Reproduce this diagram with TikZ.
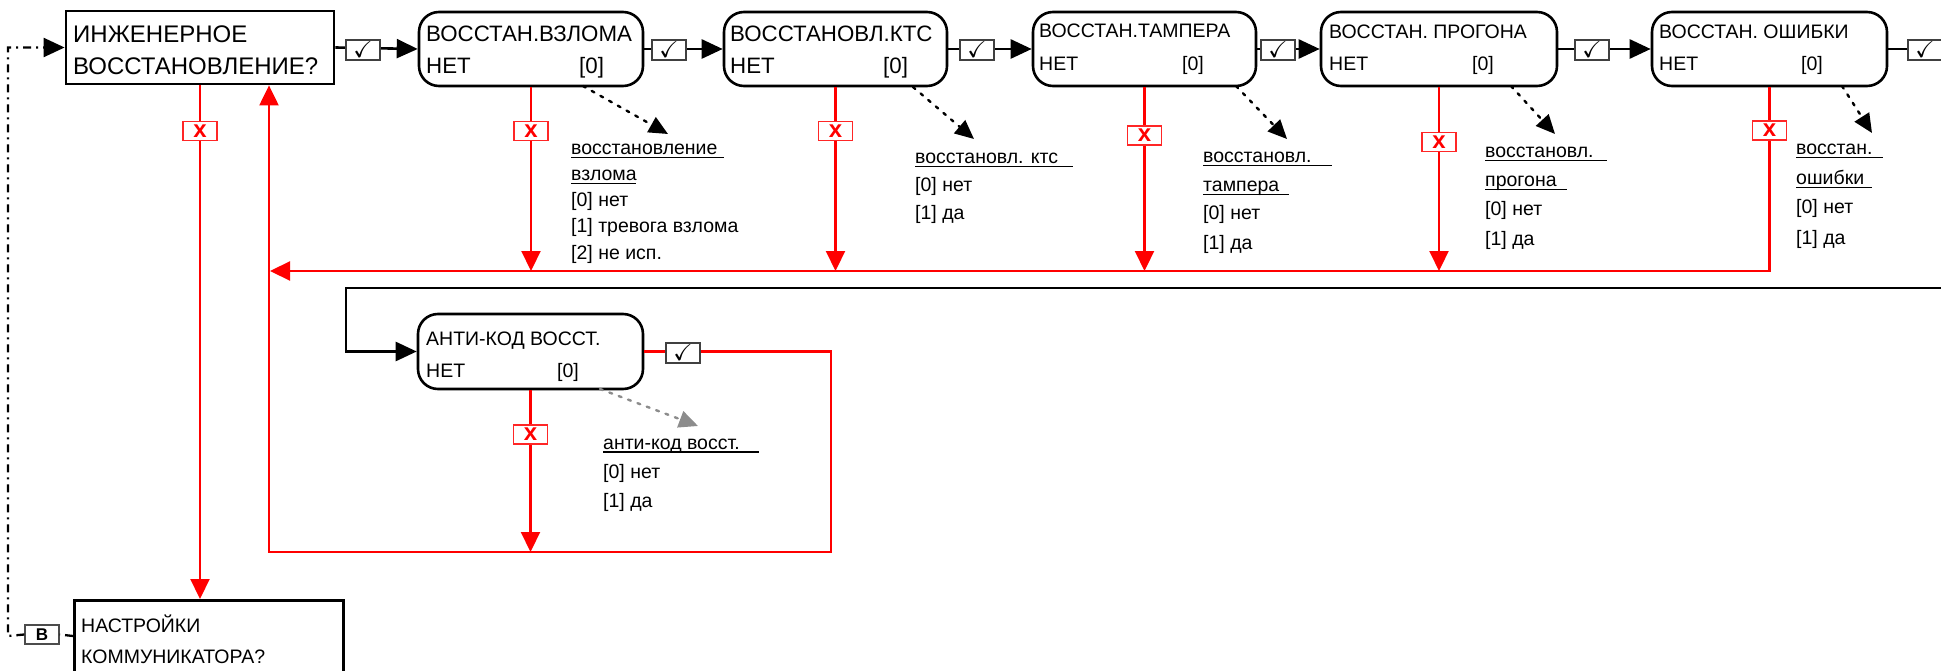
\documentclass[tikz,border=0pt]{standalone}
\usepackage{amssymb}
\usepackage{fontspec}
\setmainfont{Liberation Sans}
\usetikzlibrary{arrows.meta}

\newcommand\szQ{\fontsize{24}{28}\selectfont}
\newcommand\szB{\fontsize{22.3}{25}\selectfont}
\newcommand\szC{\fontsize{19.5}{23}\selectfont}
% text with an underline of a given length (in pt)
\newcommand\ulx[2]{\rlap{\rule[-3.5pt]{#2pt}{1.7pt}}#1}

\begin{document}
\begin{tikzpicture}[x=1pt,y=-1pt,
  qbox/.style={draw, line width=2.8pt, inner sep=0pt},
  rbox/.style={draw, line width=2.6pt, rounded corners=20pt, inner sep=0pt, minimum height=74pt},
  lbl/.style={anchor=base west, inner sep=0pt},
  okbox/.style={draw=black!75, line width=1.3pt, fill=white, inner sep=0pt,
    minimum width=34pt, minimum height=20pt, font=\fontsize{23}{23}\selectfont},
  nobox/.style={draw=red!85, line width=1.3pt, fill=white, text=red, inner sep=0pt,
    minimum width=34pt, minimum height=19pt, font=\fontsize{24}{24}\selectfont\bfseries},
  keybox/.style={draw=black!70, line width=1.3pt, fill=white, inner sep=0pt,
    minimum width=34pt, minimum height=19pt, font=\fontsize{17}{17}\selectfont\bfseries},
  flow/.style={line width=2.6pt, -{Triangle[length=21pt,width=19pt]}},
  wire/.style={line width=2.6pt},
  redflow/.style={red, line width=2.2pt, -{Triangle[length=20pt,width=19pt]}},
  hint/.style={line width=2.4pt, dash pattern=on 3pt off 7pt, line cap=round,
    -{Triangle[length=19pt,width=17pt]}},
  dd/.style={line width=2.3pt, dash pattern=on 8pt off 5pt on 2pt off 5pt},
]
\useasboundingbox (0,0) rectangle (1941,671);
\fill[white] (0,0) rectangle (1941,671);

% ---------- boxes ----------
\node[qbox, minimum width=268pt, minimum height=73pt] (q1) at (200,47.5) {};
\node[lbl, font=\szQ] (q1a) at (73,43) {ИНЖЕНЕРНОЕ};
\node[lbl, font=\szQ] (q1b) at (73,75) {ВОССТАНОВЛЕНИЕ?};

\node[rbox, minimum width=224pt] (b2) at (531,49) {};
\node[lbl, font=\szB] (b2a) at (426,42) {ВОССТАН.ВЗЛОМА};
\node[lbl, font=\szB] (b2b) at (426,74) {НЕТ};
\node[lbl, font=\szB] (b2c) at (579,74) {[0]};

\node[rbox, minimum width=223pt] (b3) at (835.5,49) {};
\node[lbl, font=\szB] (b3a) at (730,42) {ВОССТАНОВЛ.КТС};
\node[lbl, font=\szB] (b3b) at (730,74) {НЕТ};
\node[lbl, font=\szB] (b3c) at (883,74) {[0]};

\node[rbox, minimum width=223pt] (b4) at (1144.5,49) {};
\node[lbl, font=\szC] (b4a) at (1039,38) {ВОССТАН.ТАМПЕРА};
\node[lbl, font=\szC] (b4b) at (1039,71) {НЕТ};
\node[lbl, font=\szC] (b4c) at (1182,71) {[0]};

\node[rbox, minimum width=236pt] (b5) at (1439,49) {};
\node[lbl, font=\szC] (b5a) at (1329,39) {ВОССТАН. ПРОГОНА};
\node[lbl, font=\szC] (b5b) at (1329,71) {НЕТ};
\node[lbl, font=\szC] (b5c) at (1472,71) {[0]};

\node[rbox, minimum width=235pt] (b6) at (1769.5,49) {};
\node[lbl, font=\szC] (b6a) at (1659,39) {ВОССТАН. ОШИБКИ};
\node[lbl, font=\szC] (b6b) at (1659,71) {НЕТ};
\node[lbl, font=\szC] (b6c) at (1801,71) {[0]};

\node[rbox, minimum width=225pt, minimum height=75pt] (b7) at (530.5,351.5) {};
\node[lbl, font=\szC] (b7a) at (426,345) {АНТИ-КОД ВОССТ.};
\node[lbl, font=\szC] (b7b) at (426,377) {НЕТ};
\node[lbl, font=\szC] (b7c) at (557,377) {[0]};

\node[qbox, minimum width=269pt, minimum height=120pt, anchor=north west] (comm) at (73,599) {};
\node[lbl, font=\szC] (comma) at (81,632) {НАСТРОЙКИ};
\node[lbl, font=\szC] (commb) at (81,663) {КОММУНИКАТОРА?};

% ---------- helper points ----------
\coordinate (out6) at (1945,49);
\coordinate (jL) at (270,271);
\coordinate (r2) at (831,552);
\coordinate (r3) at (269,552);
\coordinate (k0) at (1945,288);
\coordinate (k1) at (346,288);
\coordinate (cw) at (73,636);
\coordinate (e1) at (8,636);
\coordinate (e2) at (8,47.5);

% ---------- "yes" chain ----------
\draw[flow] (q1.east) -- (b2.west);
\draw[flow] (b2.east) -- (b3.west);
\draw[flow] (b3.east) -- (b4.west);
\draw[flow] (b4.east) -- (b5.west);
\draw[flow] (b5.east) -- (b6.west);
\draw[wire] (b6.east) -- (out6);
\draw[flow] (k0) -- (k1) |- (b7.west);

% ---------- "no" branches ----------
\draw[redflow] (q1.south) -- (q1.south |- comm.north);
\draw[redflow] (b2.south) -- (b2.south |- jL);
\draw[redflow] (b3.south) -- (b3.south |- jL);
\draw[redflow] (b4.south) -- (b4.south |- jL);
\draw[redflow] (b5.south) -- (b5.south |- jL);
\draw[redflow] (b6.south) |- (jL);
\draw[redflow] (b7.south) -- (b7.south |- r3);
\draw[redflow] (b7.east) -| (r2) -- (r3) -- (r3 |- q1.south);

% ---------- dash-dot return ----------
\node[keybox] (kB) at (42,634.5) {B};
\draw[dd] (cw) -- (kB.east);
\draw[dd, -{Triangle[length=21pt,width=19pt]}] (kB.west) -- (e1) -- (e2) -- (q1.west);

% ---------- marks on the connectors ----------
\node[okbox] (c1) at (363,50) {$\checkmark$};
\node[okbox] (c2) at (669,50) {$\checkmark$};
\node[okbox] (c3) at (977,50) {$\checkmark$};
\node[okbox] (c4) at (1278,50) {$\checkmark$};
\node[okbox] (c5) at (1592,50) {$\checkmark$};
\node[okbox] (c6) at (1925,50) {$\checkmark$};
\node[okbox] (c7) at (683,353) {$\checkmark$};

\node[nobox] (x1) at (200,131) {x};
\node[nobox] (x2) at (531,131) {x};
\node[nobox] (x3) at (835.5,131) {x};
\node[nobox] (x4) at (1144.5,135.5) {x};
\node[nobox] (x5) at (1439,142) {x};
\node[nobox] (x6) at (1769.5,130.5) {x};
\node[nobox] (x7) at (530.5,434.5) {x};

% ---------- value hints ----------
\coordinate (d2s) at (583,86);   \coordinate (d2e) at (668,134);
\coordinate (d3s) at (913,87);   \coordinate (d3e) at (974,139);
\coordinate (d4s) at (1236,86);  \coordinate (d4e) at (1287,139);
\coordinate (d5s) at (1511,86);  \coordinate (d5e) at (1555,134);
\coordinate (d6s) at (1842,86);  \coordinate (d6e) at (1872,133);
\coordinate (d7s) at (600,389);  \coordinate (d7e) at (698,426);
\draw[hint] (d2s) -- (d2e);
\draw[hint] (d3s) -- (d3e);
\draw[hint] (d4s) -- (d4e);
\draw[hint] (d5s) -- (d5e);
\draw[hint] (d6s) -- (d6e);
\draw[hint, black!45] (d7s) -- (d7e);

\begin{scope}[every node/.style={lbl, font=\szC}]
\node (a2a) at (571,155) {\ulx{восстановление}{153}};
\node (a2b) at (571,181) {\ulx{взлома}{65}};
\node (a2c) at (571,207) {[0] нет};
\node (a2d) at (571,233) {[1] тревога взлома};
\node (a2e) at (571,259) {[2] не исп.};

\node (a3a) at (915,164) {\ulx{восстановл. ктс}{158}};
\node (a3b) at (915,192) {[0] нет};
\node (a3c) at (915,220) {[1] да};

\node (a4a) at (1203,163) {\ulx{восстановл.}{129}};
\node (a4b) at (1203,192) {\ulx{тампера}{86}};
\node (a4c) at (1203,220) {[0] нет};
\node (a4d) at (1203,249) {[1] да};

\node (a5a) at (1485,158) {\ulx{восстановл.}{122}};
\node (a5b) at (1485,187) {\ulx{прогона}{82}};
\node (a5c) at (1485,215) {[0] нет};
\node (a5d) at (1485,245) {[1] да};

\node (a6a) at (1796,155) {\ulx{восстан.}{87}};
\node (a6b) at (1796,185) {\ulx{ошибки}{76}};
\node (a6c) at (1796,214) {[0] нет};
\node (a6d) at (1796,244) {[1] да};

\node (a7a) at (603,449) {\ulx{анти-код восст.}{156}};
\node (a7b) at (603,478) {[0] нет};
\node (a7c) at (603,507) {[1] да};
\end{scope}
\end{tikzpicture}
\end{document}
